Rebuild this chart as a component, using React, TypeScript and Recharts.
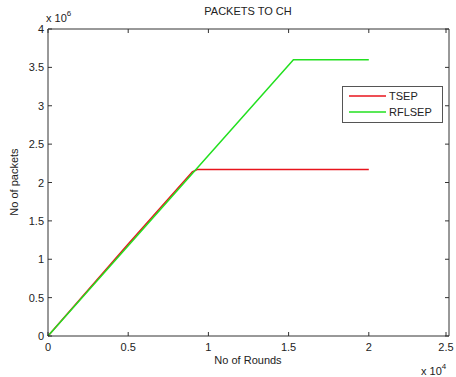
import React from "react";
import { LineChart, Line, XAxis, YAxis } from "recharts";

// rounds in units of 1e4, packets in units of 1e6
const tsepRounds = [0, 0.5, 0.9, 0.93, 2];
const tsepPackets = [0, 1.2, 2.14, 2.17, 2.17];
const rflsepRounds = [0, 1.53, 2];
const rflsepPackets = [0, 3.6, 3.6];

const xTicks = [0, 0.5, 1, 1.5, 2, 2.5];
const yTicks = [0, 0.5, 1, 1.5, 2, 2.5, 3, 3.5, 4];

const tsep = tsepRounds.map((r, i) => ({ r, v: tsepPackets[i] }));
const rflsep = rflsepRounds.map((r, i) => ({ r, v: rflsepPackets[i] }));

const font = "'Liberation Sans', Arial, sans-serif";
const axisColor = "#333";
const textColor = "#222";
const red = "#e8141c";
const green = "#22e01f";

const BottomTick = (p: any) => (
  <g>
    <line x1={p.x} x2={p.x} y1={p.y} y2={p.y - 4} stroke={axisColor} />
    <text x={p.x} y={p.y + 15} textAnchor="middle" fontSize={11} fill={textColor} fontFamily={font}>
      {p.payload.value}
    </text>
  </g>
);
const TopTick = (p: any) => <line x1={p.x} x2={p.x} y1={p.y} y2={p.y + 4} stroke={axisColor} />;
const LeftTick = (p: any) => (
  <g>
    <line x1={p.x} x2={p.x + 4} y1={p.y} y2={p.y} stroke={axisColor} />
    <text x={p.x - 4} y={p.y + 4} textAnchor="end" fontSize={11} fill={textColor} fontFamily={font}>
      {p.payload.value}
    </text>
  </g>
);
const RightTick = (p: any) => <line x1={p.x} x2={p.x - 4} y1={p.y} y2={p.y} stroke={axisColor} />;

const label = (extra: React.CSSProperties): React.CSSProperties => ({
  position: "absolute",
  fontFamily: font,
  fontSize: 11,
  color: textColor,
  whiteSpace: "nowrap",
  ...extra,
});

export default function App() {
  return (
    <div style={{ position: "absolute", left: 0, top: 0, width: 456, height: 377, background: "#fff" }}>
      <LineChart width={456} height={377} margin={{ top: 28, right: 6, bottom: 0, left: 8 }}>
        <XAxis
          xAxisId="b"
          dataKey="r"
          type="number"
          domain={[0, 2.5]}
          ticks={xTicks}
          tickSize={0}
          tickMargin={0}
          height={41}
          stroke={axisColor}
          tickLine={false}
          tick={BottomTick}
        />
        <XAxis
          xAxisId="t"
          orientation="top"
          dataKey="r"
          type="number"
          domain={[0, 2.5]}
          ticks={xTicks}
          tickSize={0}
          tickMargin={0}
          height={1}
          stroke={axisColor}
          tickLine={false}
          tick={TopTick}
        />
        <YAxis
          yAxisId="l"
          dataKey="v"
          type="number"
          domain={[0, 4]}
          ticks={yTicks}
          tickSize={0}
          tickMargin={0}
          width={40}
          stroke={axisColor}
          tickLine={false}
          tick={LeftTick}
        />
        <YAxis
          yAxisId="r"
          orientation="right"
          dataKey="v"
          type="number"
          domain={[0, 4]}
          ticks={yTicks}
          tickSize={0}
          tickMargin={0}
          width={1}
          stroke={axisColor}
          tickLine={false}
          tick={RightTick}
        />
        <Line
          xAxisId="b"
          yAxisId="l"
          data={tsep}
          dataKey="v"
          type="linear"
          stroke={red}
          strokeWidth={1.5}
          dot={false}
          isAnimationActive={false}
        />
        <Line
          xAxisId="t"
          yAxisId="r"
          data={rflsep}
          dataKey="v"
          type="linear"
          stroke={green}
          strokeWidth={1.5}
          dot={false}
          isAnimationActive={false}
        />
      </LineChart>
      <svg width={102} height={38} style={{ position: "absolute", left: 342, top: 86 }}>
        <rect x={0.5} y={0.5} width={100} height={36} fill="#fff" stroke="#555" />
        <line x1={7} x2={44} y1={10} y2={10} stroke={red} strokeWidth={1.5} />
        <text x={47} y={14} fontSize={11} fill={textColor} fontFamily={font}>TSEP</text>
        <line x1={7} x2={44} y1={26} y2={26} stroke={green} strokeWidth={1.5} />
        <text x={47} y={30} fontSize={11} fill={textColor} fontFamily={font}>RFLSEP</text>
      </svg>
      <div style={label({ left: 0, width: 496, top: 354, textAlign: "center" })}>No of Rounds</div>
      <div style={label({ left: 0, width: 496, top: 5, textAlign: "center" })}>PACKETS TO CH</div>
      <div
        style={label({
          left: 14,
          top: 182,
          transform: "translate(-50%, -50%) rotate(-90deg)",
        })}
      >
        No of packets
      </div>
      <div style={label({ left: 46, top: 9 })}>
        x 10<sup style={{ fontSize: 8, verticalAlign: 6 }}>6</sup>
      </div>
      <div style={label({ left: 421, top: 362 })}>
        x 10<sup style={{ fontSize: 8, verticalAlign: 6 }}>4</sup>
      </div>
    </div>
  );
}
